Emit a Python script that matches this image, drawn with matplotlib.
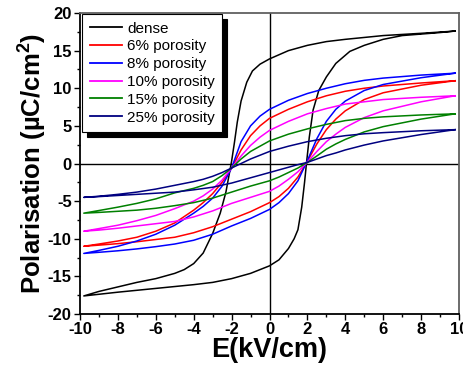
import matplotlib
matplotlib.use("Agg")
import matplotlib.pyplot as plt
from matplotlib.ticker import MultipleLocator

plt.rcParams['font.family'] = ['Liberation Sans', 'DejaVu Sans']
plt.rcParams['axes.unicode_minus'] = False
plt.rcParams['mathtext.fontset'] = 'custom'
plt.rcParams['mathtext.rm'] = 'Liberation Sans'
plt.rcParams['mathtext.bf'] = 'Liberation Sans:bold'

# Field values (kV/cm) for the descending (upper) and ascending (lower) branches
E_dense_up = [9.8, 8, 6, 4, 3, 2, 1, 0, -0.5, -0.9, -1.2, -1.5, -1.7, -1.85, -2.0,
              -2.3, -2.6, -3.0, -3.5, -4.0, -4.5, -5.0, -6.0, -7.0, -8.0, -9.0, -9.8]
P_dense_up = [17.6, 17.3, 17.0, 16.5, 16.2, 15.7, 15.0, 13.9, 13.2, 12.3, 10.8, 8.3,
              5.5, 2.8, 0.3, -3.8, -6.6, -9.3, -11.9, -13.3, -14.1, -14.6, -15.3,
              -15.8, -16.4, -17.0, -17.6]
E_dense_lo = [-9.8, -8, -6, -4, -3, -2, -1, 0, 0.5, 1.0, 1.3, 1.5, 1.7, 1.85, 1.95,
              2.1, 2.3, 2.6, 3.0, 3.5, 4.24, 5, 6, 7, 8, 9, 9.8]
P_dense_lo = [-17.6, -17.1, -16.6, -16.1, -15.8, -15.3, -14.6, -13.6, -12.8, -11.3,
              -10.0, -8.8, -5.8, -2.5, 0.0, 3.5, 7.1, 9.7, 11.5, 13.3, 14.9, 15.7,
              16.5, 17.0, 17.2, 17.4, 17.6]

E_up = [9.8, 8, 6, 5, 4, 3, 2, 1, 0, -0.5, -1, -1.5, -2, -2.5, -3, -3.5, -4, -5,
        -6, -7, -8, -9, -9.8]
E_lo = [-9.8, -9, -8, -7, -6, -5, -4, -3, -2, -1, 0, 0.5, 1, 1.5, 2, 2.5, 3, 3.5,
        4, 5, 6, 8, 9.8]

P6_up = [11.0, 10.7, 10.3, 10.0, 9.6, 9.0, 8.2, 7.2, 6.0, 5.0, 3.7, 1.8, -0.6, -2.5,
         -4.0, -5.2, -6.2, -7.9, -9.0, -9.8, -10.3, -10.7, -11.0]
P6_lo = [-11.0, -10.85, -10.65, -10.4, -10.1, -9.8, -9.2, -8.4, -7.4, -6.4, -5.2,
         -4.4, -3.3, -1.8, 0.3, 2.6, 4.5, 5.9, 7.0, 8.5, 9.4, 10.4, 11.0]

P8_up = [12.0, 11.75, 11.35, 11.05, 10.6, 10.0, 9.3, 8.4, 7.2, 6.3, 5.0, 2.9, -0.6,
         -3.0, -4.6, -5.7, -6.6, -8.2, -9.4, -10.3, -11.0, -11.55, -11.95]
P8_lo = [-11.95, -11.8, -11.6, -11.35, -11.05, -10.7, -10.2, -9.4, -8.3, -7.3, -6.1,
         -5.2, -4.0, -2.3, 0.4, 3.3, 5.6, 7.2, 8.3, 9.7, 10.5, 11.4, 12.0]

P10_up = [9.0, 8.8, 8.5, 8.2, 7.9, 7.3, 6.6, 5.6, 4.4, 3.5, 2.4, 1.0, -0.6, -2.2,
          -3.4, -4.3, -5.0, -6.0, -6.9, -7.6, -8.2, -8.65, -9.0]
P10_lo = [-9.0, -8.85, -8.6, -8.3, -8.0, -7.7, -7.1, -6.3, -5.3, -4.5, -3.7, -3.0,
          -2.1, -1.1, 0.2, 1.6, 2.9, 3.9, 4.8, 6.1, 7.0, 8.2, 9.0]

P15_up = [6.6, 6.45, 6.2, 6.0, 5.7, 5.2, 4.6, 3.9, 3.0, 2.3, 1.6, 0.6, -0.6, -1.6,
          -2.4, -2.9, -3.3, -3.9, -4.7, -5.3, -5.8, -6.25, -6.6]
P15_lo = [-6.6, -6.5, -6.35, -6.2, -5.95, -5.6, -5.2, -4.6, -3.8, -3.0, -2.3, -1.8,
          -1.2, -0.6, 0.15, 1.0, 1.9, 2.6, 3.2, 4.2, 4.9, 5.9, 6.6]

P25_up = [4.5, 4.35, 4.1, 3.95, 3.7, 3.35, 2.9, 2.3, 1.6, 1.1, 0.6, 0.0, -0.6, -1.2,
          -1.7, -2.1, -2.4, -2.9, -3.4, -3.8, -4.1, -4.35, -4.5]
P25_lo = [-4.5, -4.4, -4.25, -4.1, -3.95, -3.8, -3.5, -3.15, -2.6, -1.9, -1.2, -0.85,
          -0.5, -0.15, 0.15, 0.6, 1.05, 1.4, 1.8, 2.45, 3.0, 3.85, 4.5]

labels = ['dense', '6% porosity', '8% porosity', '10% porosity', '15% porosity',
          '25% porosity']
colors = ['#000000', '#ff0000', '#0000ff', '#ff00ff', '#008000', '#000080']

fig = plt.figure(figsize=(4.63, 3.67), dpi=100)
ax = fig.add_axes([80 / 463, 53 / 367, 379 / 463, 301 / 367])

ax.axhline(0, color='black', lw=1.0, zorder=1)
ax.axvline(0, color='black', lw=1.0, zorder=1)

loops = [
    (E_dense_up, P_dense_up, E_dense_lo, P_dense_lo),
    (E_up, P6_up, E_lo, P6_lo),
    (E_up, P8_up, E_lo, P8_lo),
    (E_up, P10_up, E_lo, P10_lo),
    (E_up, P15_up, E_lo, P15_lo),
    (E_up, P25_up, E_lo, P25_lo),
]
for (eu, pu, el, pl), lab, c in zip(loops, labels, colors):
    ax.plot(eu + el, pu + pl, color=c, lw=1.1, label=lab, zorder=3)

ax.set_xlim(-10, 10)
ax.set_ylim(-20, 20)
ax.xaxis.set_major_locator(MultipleLocator(2))
ax.xaxis.set_minor_locator(MultipleLocator(1))
ax.yaxis.set_major_locator(MultipleLocator(5))
ax.yaxis.set_minor_locator(MultipleLocator(2.5))
ax.tick_params(which='both', direction='out', top=False, right=False, width=1.0,
               labelsize=12, pad=2)
ax.tick_params(which='major', length=4)
ax.tick_params(which='minor', length=2.5)
for t in ax.get_xticklabels() + ax.get_yticklabels():
    t.set_fontweight('bold')

for s in ('left', 'bottom'):
    ax.spines[s].set_linewidth(1.3)
    ax.spines[s].set_color('black')
for s in ('top', 'right'):
    ax.spines[s].set_linewidth(1.3)
    ax.spines[s].set_color('#606060')

ax.set_xlabel('E(kV/cm)', fontsize=19.5, fontweight='bold', labelpad=0)
ax.set_ylabel('Polarisation (\u00b5C/cm$^{\\mathbf{2}}$)', fontsize=18.5,
              fontweight='bold', labelpad=0)

leg = ax.legend(loc='upper left', bbox_to_anchor=(0.005, 0.997), borderaxespad=0,
                fontsize=11, frameon=True, fancybox=False, handlelength=2.1,
                handletextpad=0.35, labelspacing=0.25, borderpad=0.5,
                shadow={'ox': 3.5, 'oy': -3.5, 'facecolor': 'black',
                        'edgecolor': 'black', 'alpha': 1.0})
leg.get_frame().set_edgecolor('black')
leg.get_frame().set_linewidth(0.8)
for h in leg.get_lines():
    h.set_linewidth(1.3)

fig.savefig('out.png', dpi=100)
